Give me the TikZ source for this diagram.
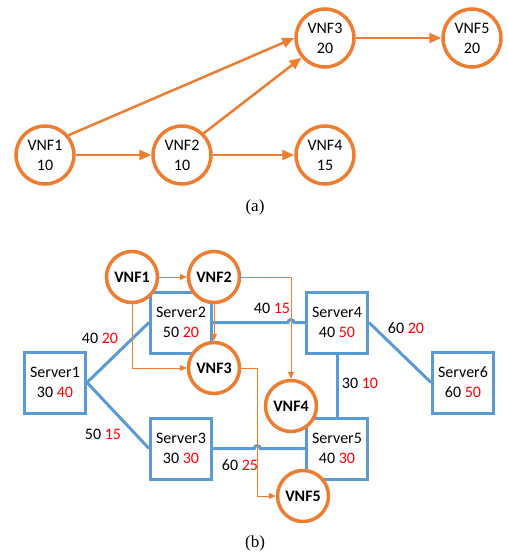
\documentclass[tikz,border=0pt]{standalone}
\usepackage{fontspec}
\setmainfont{Liberation Serif}
\newfontfamily\carlito{Carlito}
\usetikzlibrary{arrows.meta}
\definecolor{vnforange}{HTML}{ED7D31}
\definecolor{srvblue}{HTML}{5B9BD5}
\begin{document}
\begin{tikzpicture}[x=1pt,y=-1pt]
   \tikzset{VnfStyle/.style={circle, draw=vnforange, line width=3.5pt, fill=white, minimum size=58pt, inner sep=0pt, align=center, font=\carlito\fontsize{16}{20}\selectfont}}
   \tikzset{VnfBoldStyle/.style={VnfStyle, minimum size=51pt, font=\carlito\bfseries\fontsize{16}{20}\selectfont}}
   \tikzset{ServerStyle/.style={rectangle, draw=srvblue, line width=3pt, fill=white, minimum width=61pt, minimum height=61pt, inner sep=0pt, align=center, font=\carlito\fontsize{16}{20}\selectfont}}
   \tikzset{EdgeStyle/.style={draw=vnforange, line width=2.5pt, -{Triangle[length=12pt,width=10pt]}}}
   \tikzset{FlowStyle/.style={draw=vnforange, line width=1pt, -{Triangle[length=7pt,width=6pt]}}}
   \tikzset{LinkStyle/.style={draw=srvblue, line width=3pt}}
   \tikzset{CostStyle/.style={font=\carlito\fontsize{16}{20}\selectfont}}
   \useasboundingbox (0,0) rectangle (507,557);
   % (a) service chain
   \node[VnfStyle] (a1) at (45,155) {VNF1\\10};
   \node[VnfStyle] (a2) at (182,155) {VNF2\\10};
   \node[VnfStyle] (a3) at (325,38) {VNF3\\20};
   \node[VnfStyle] (a4) at (325,155) {VNF4\\15};
   \node[VnfStyle] (a5) at (472,38) {VNF5\\20};
   \draw[EdgeStyle] (a1) -- (a2);
   \draw[EdgeStyle] (a2) -- (a4);
   \draw[EdgeStyle] (a3) -- (a5);
   \draw[EdgeStyle] (a1.40) -- (a3.west);
   \draw[EdgeStyle] (a2.45) -- (a3.220);
   \node (capa) at (255,207) {\fontsize{17}{20}\selectfont(a)};
   % (b) servers
   \node[ServerStyle] (s1) at (55,382.5) {Server1\\30 \textcolor{red}{40}};
   \node[ServerStyle] (s2) at (181,322.5) {Server2\\50 \textcolor{red}{20}};
   \node[ServerStyle] (s3) at (181,448.5) {Server3\\30 \textcolor{red}{30}};
   \node[ServerStyle] (s4) at (337,322.5) {Server4\\40 \textcolor{red}{50}};
   \node[ServerStyle] (s5) at (337,448.5) {Server5\\40 \textcolor{red}{30}};
   \node[ServerStyle] (s6) at (463,382.5) {Server6\\60 \textcolor{red}{50}};
   % (b) placed VNFs
   \node[VnfBoldStyle] (v1) at (132,277) {VNF1};
   \node[VnfBoldStyle] (v2) at (214,277) {VNF2};
   \node[VnfBoldStyle] (v3) at (214,368) {VNF3};
   \node[VnfBoldStyle] (v4) at (291,406) {VNF4};
   \node[VnfBoldStyle] (v5) at (303,496) {VNF5};
   \coordinate (k1) at ([xshift=16pt]v3.east);
   \coordinate (h1) at (v4 |- s2.east);
   \coordinate (h2) at (k1 |- s3.east);
   % links
   \draw[LinkStyle] (s1.east) -- (s2.west);
   \draw[LinkStyle] (s1.east) -- (s3.west);
   \draw[LinkStyle] (s2.east) -- ([xshift=-3pt]h1) arc[start angle=180, end angle=0, radius=3pt] -- (s4.west);
   \draw[LinkStyle] (s3.east) -- ([xshift=-3pt]h2) arc[start angle=180, end angle=0, radius=3pt] -- (s5.west);
   \draw[LinkStyle] (s4.south) -- (s5.north);
   \draw[LinkStyle] (s4.east) -- (s6.west);
   \node[CostStyle] (c12) at (100,338) {40 \textcolor{red}{20}};
   \node[CostStyle] (c13) at (103,434) {50 \textcolor{red}{15}};
   \node[CostStyle] (c24) at (272,308) {40 \textcolor{red}{15}};
   \node[CostStyle] (c35) at (240,465) {60 \textcolor{red}{25}};
   \node[CostStyle] (c46) at (406,328) {60 \textcolor{red}{20}};
   \node[CostStyle] (c45) at (360,383) {30 \textcolor{red}{10}};
   % flows
   \draw[FlowStyle] (v1) -- (v2);
   \draw[FlowStyle] (v1.south) |- (v3.west);
   \draw[FlowStyle] (v2.south) -- (v3.north);
   \draw[FlowStyle] (v2.east) -| (v4.north);
   \draw[FlowStyle] (v3.east) -- (k1) |- (v5.west);
   \node (capb) at (255,543) {\fontsize{17}{20}\selectfont(b)};
\end{tikzpicture}
\end{document}
